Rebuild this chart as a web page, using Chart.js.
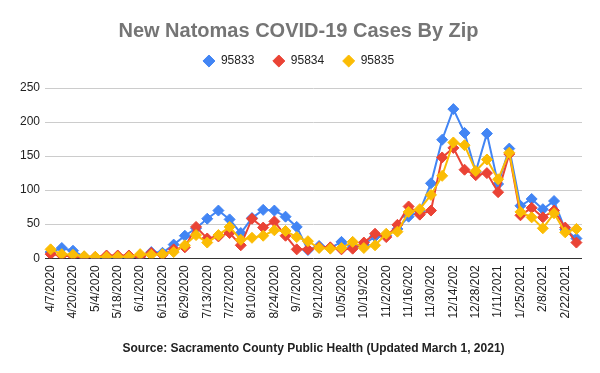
<!DOCTYPE html>
<html>
<head>
<meta charset="utf-8">
<script src="https://cdn.jsdelivr.net/npm/chart.js@4"></script>
<style>
  html, body { margin: 0; padding: 0; background: #fff; }
  #wrap { width: 600px; height: 373px; }
</style>
</head>
<body>
<div id="wrap"><canvas id="grafico"></canvas></div>
<script>
// semanas (data de cada ponto)
const semanas = [
  "4/7/2020", "4/13/2020", "4/20/2020", "4/27/2020", "5/4/2020", "5/11/2020",
  "5/18/2020", "5/25/2020", "6/1/2020", "6/8/2020", "6/15/2020", "6/22/2020",
  "6/29/2020", "7/6/2020", "7/13/2020", "7/20/2020", "7/27/2020", "8/3/2020",
  "8/10/2020", "8/17/2020", "8/24/2020", "8/31/2020", "9/7/2020", "9/14/2020",
  "9/21/2020", "9/28/2020", "10/5/2020", "10/12/2020", "10/19/2020", "10/26/2020",
  "11/2/2020", "11/9/2020", "11/16/2020", "11/23/2020", "11/30/2020", "12/7/2020",
  "12/14/2020", "12/21/2020", "12/28/2020", "1/4/2021", "1/11/2021", "1/18/2021",
  "1/25/2021", "2/1/2021", "2/8/2021", "2/15/2021", "2/22/2021", "3/1/2021"
];

// casos novos por zip
const zip95833 = [
  9, 15, 11, 2, 1, 1, 1, 1, 3, 9, 8, 20,
  33, 44, 58, 70, 57, 37, 59, 71, 70, 61, 46, 12,
  18, 15, 24, 16, 20, 32, 33, 43, 61, 69, 110, 174,
  219, 184, 127, 183, 109, 161, 77, 87, 72, 84, 42, 29
];
const zip95834 = [
  6, 4, 3, 1, 2, 4, 4, 4, 2, 8, 5, 13,
  16, 46, 29, 32, 37, 19, 58, 45, 54, 33, 13, 13,
  16, 16, 13, 14, 23, 36, 31, 49, 76, 64, 70, 148,
  162, 130, 122, 125, 97, 153, 63, 74, 60, 70, 45, 23
];
const zip95835 = [
  13, 6, 5, 3, 2, 2, 2, 2, 6, 5, 6, 9,
  19, 34, 23, 34, 46, 27, 30, 33, 41, 40, 31, 25,
  15, 14, 15, 24, 15, 19, 36, 39, 68, 72, 93, 121,
  170, 166, 128, 145, 116, 155, 68, 60, 44, 66, 38, 43
];

const yTicks = [0, 50, 100, 150, 200, 250];

const fonte = "Arial, 'Liberation Sans', sans-serif";

function serie(label, dados, cor, ordem) {
  return {
    label: label,
    data: dados,
    borderColor: cor,
    backgroundColor: cor,
    borderWidth: 2,
    pointStyle: "rectRot",
    pointRadius: 5.5,
    pointBorderWidth: 1,
    pointHoverRadius: 5.5,
    tension: 0,
    order: ordem
  };
}

// espaco extra entre a legenda e o grafico
const espacoLegenda = {
  id: "espacoLegenda",
  beforeInit(chart) {
    const fitOriginal = chart.legend.fit;
    chart.legend.fit = function () {
      fitOriginal.bind(chart.legend)();
      this.height += 11;
    };
  }
};

new Chart(document.getElementById("grafico"), {
  type: "line",
  data: {
    labels: semanas,
    datasets: [
      serie("95833", zip95833, "#4285F4", 3),
      serie("95834", zip95834, "#EA4335", 2),
      serie("95835", zip95835, "#FBBC04", 1)
    ]
  },
  plugins: [espacoLegenda],
  options: {
    responsive: true,
    maintainAspectRatio: false,
    animation: false,
    layout: { padding: { left: 15, right: 18, top: 0, bottom: 0 } },
    plugins: {
      title: {
        display: true,
        text: "New Natomas COVID-19 Cases By Zip",
        color: "#757575",
        font: { family: fonte, size: 20, weight: "bold" },
        padding: { top: 19, bottom: -6.5 }
      },
      legend: {
        display: true,
        position: "top",
        reverse: true,
        labels: {
          usePointStyle: true,
          pointStyle: "rectRot",
          boxHeight: 8.5,
          padding: 18.5,
          color: "#222",
          font: { family: fonte, size: 12 }
        }
      },
      subtitle: {
        display: true,
        position: "bottom",
        fullSize: false,
        text: "Source: Sacramento County Public Health (Updated March 1, 2021)",
        color: "#222",
        font: { family: fonte, size: 12, weight: "bold" },
        padding: { top: 16, bottom: 17 }
      },
      tooltip: { enabled: false }
    },
    scales: {
      x: {
        offset: true,
        grid: { display: false, drawTicks: false },
        border: { display: false },
        ticks: {
          autoSkip: false,
          minRotation: 90,
          maxRotation: 90,
          padding: 7,
          color: "#222",
          font: { family: fonte, size: 12 },
          callback: function (valor, indice) {
            if (indice % 2 !== 0) return "";
            return semanas[indice].slice(0, 9);
          }
        }
      },
      y: {
        min: 0,
        max: 250,
        afterBuildTicks: (escala) => {
          escala.ticks = yTicks.map((v) => ({ value: v }));
        },
        grid: {
          drawTicks: false,
          color: (ctx) => (ctx.tick && ctx.tick.value === 0 ? "#333333" : "#cccccc")
        },
        border: { display: false },
        ticks: {
          padding: 5,
          color: "#222",
          font: { family: fonte, size: 12 }
        }
      }
    }
  }
});
</script>
</body>
</html>
